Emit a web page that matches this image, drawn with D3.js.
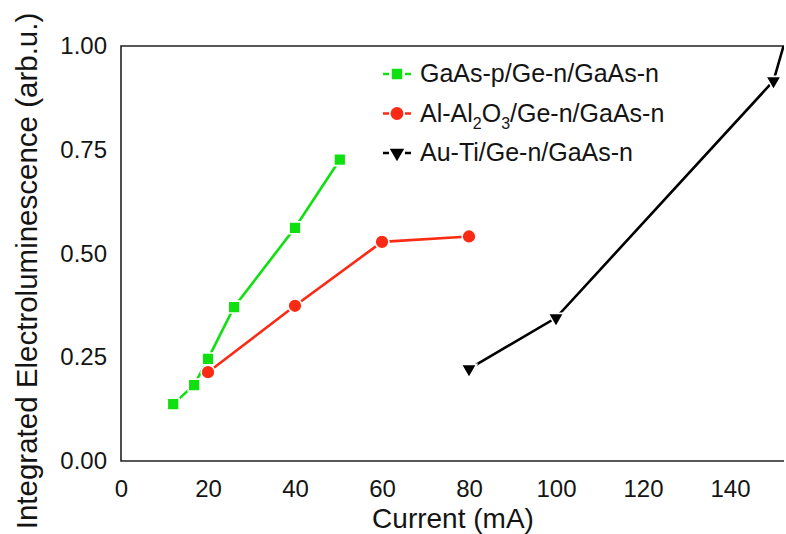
<!DOCTYPE html>
<html>
<head>
<meta charset="utf-8">
<script src="https://cdn.jsdelivr.net/npm/d3@7"></script>
<style>
  html, body { margin: 0; padding: 0; background: #fff; }
  svg { display: block; font-family: "Liberation Sans", Arial, sans-serif; }
</style>
</head>
<body>
<svg id="chart" width="786" height="534"></svg>
<script>
// ---- data ----
const greenX = [12, 16.8, 20, 26, 40, 50.3];
const greenY = [0.137, 0.183, 0.246, 0.371, 0.562, 0.726];
const redX = [20, 40, 60, 80];
const redY = [0.214, 0.374, 0.528, 0.541];
const blackX = [80, 100, 150, 160];
const blackY = [0.222, 0.345, 0.916, 1.28];
const seriesNames = ["GaAs-p/Ge-n/GaAs-n", "Al-Al2O3/Ge-n/GaAs-n", "Au-Ti/Ge-n/GaAs-n"];
const xTicks = [0, 20, 40, 60, 80, 100, 120, 140];
const yTicks = [0, 0.25, 0.5, 0.75, 1.0];

const svg = d3.select("#chart");
const mLeft = 121, mTop = 46, mBottom = 461;
const xRightPx = 817; // 160 mA maps beyond the visible window
const plotRight = 784;

const x = d3.scaleLinear().domain([0, 160]).range([mLeft, xRightPx]);
const y = d3.scaleLinear().domain([0, 1]).range([mBottom, mTop]);

const green = "#10e010", red = "#fa2a14", black = "#000";
const textCol = "#141414";

// clip
svg.append("defs").append("clipPath").attr("id", "clip")
  .append("rect").attr("x", mLeft).attr("y", mTop).attr("width", plotRight - mLeft).attr("height", mBottom - mTop);

// axes
const xAxis = d3.axisBottom(x).tickValues(xTicks).tickSize(0).tickPadding(19).tickFormat(d3.format("d"));
const gx = svg.append("g").attr("transform", `translate(0,${mBottom})`).call(xAxis);
gx.select(".domain").remove();
gx.selectAll("text").attr("font-size", 24).attr("fill", textCol).attr("font-family", "Liberation Sans, Arial, sans-serif");

const yAxis = d3.axisLeft(y).tickValues(yTicks).tickSize(0).tickPadding(14).tickFormat(d3.format(".2f"));
const gy = svg.append("g").attr("transform", `translate(${mLeft},0)`).call(yAxis);
gy.select(".domain").remove();
gy.selectAll("text").attr("font-size", 24).attr("fill", textCol).attr("font-family", "Liberation Sans, Arial, sans-serif");

svg.append("path")
  .attr("d", `M${plotRight},${mTop}H${mLeft}V${mBottom}H${plotRight}`)
  .attr("fill", "none").attr("stroke", "#222").attr("stroke-width", 1.6);

// axis titles
svg.append("text").attr("x", 453).attr("y", 528).attr("text-anchor", "middle")
  .attr("font-size", 28).attr("fill", textCol).text("Current (mA)");
svg.append("text").attr("transform", "translate(37,271) rotate(-90)").attr("text-anchor", "middle")
  .attr("font-size", 29.5).attr("fill", textCol).text("Integrated Electroluminescence (arb.u.)");

// series
const plot = svg.append("g").attr("clip-path", "url(#clip)");
const line = d3.line().x(d => x(d[0])).y(d => y(d[1]));
const sq = d3.symbol().type(d3.symbolSquare).size(140);
const ci = d3.symbol().type(d3.symbolCircle).size(150);
const tri = d3.symbol().type(d3.symbolTriangle).size(105);

function drawSeries(xs, ys, color, sym, rot) {
  const pts = xs.map((v, i) => [v, ys[i]]);
  plot.append("path").datum(pts).attr("d", line)
    .attr("fill", "none").attr("stroke", color).attr("stroke-width", 2.6);
  plot.selectAll(null).data(pts).enter().append("path")
    .attr("d", sym)
    .attr("transform", d => `translate(${x(d[0])},${y(d[1])}) rotate(${rot})`)
    .attr("fill", color).attr("stroke", "#fff").attr("stroke-width", 1.6);
}
drawSeries(greenX, greenY, green, sq, 0);
drawSeries(redX, redY, red, ci, 0);
drawSeries(blackX, blackY, black, tri, 180);

// legend
const legend = [
  { name: seriesNames[0], color: green, sym: d3.symbol().type(d3.symbolSquare).size(110), rot: 0 },
  { name: seriesNames[1], color: red, sym: d3.symbol().type(d3.symbolCircle).size(130), rot: 0 },
  { name: seriesNames[2], color: black, sym: d3.symbol().type(d3.symbolTriangle).size(90), rot: 180 }
];
legend.forEach((d, i) => {
  const ly = 74 + i * 39.5;
  const g = svg.append("g");
  g.append("line").attr("x1", 383).attr("x2", 411).attr("y1", ly).attr("y2", ly)
    .attr("stroke", d.color).attr("stroke-width", 2.6).attr("stroke-dasharray", "6,16,6");
  g.append("path").attr("d", d.sym).attr("transform", `translate(397,${ly}) rotate(${d.rot})`)
    .attr("fill", d.color);
  const t = g.append("text").attr("x", 420).attr("y", ly + 8).attr("font-size", 25).attr("fill", textCol);
  if (i === 1) {
    t.append("tspan").text("Al-Al");
    t.append("tspan").attr("font-size", 16).attr("dy", 7).text("2");
    t.append("tspan").attr("dy", -7).text("O");
    t.append("tspan").attr("font-size", 16).attr("dy", 7).text("3");
    t.append("tspan").attr("dy", -7).text("/Ge-n/GaAs-n");
  } else {
    t.text(d.name);
  }
});
</script>
</body>
</html>
